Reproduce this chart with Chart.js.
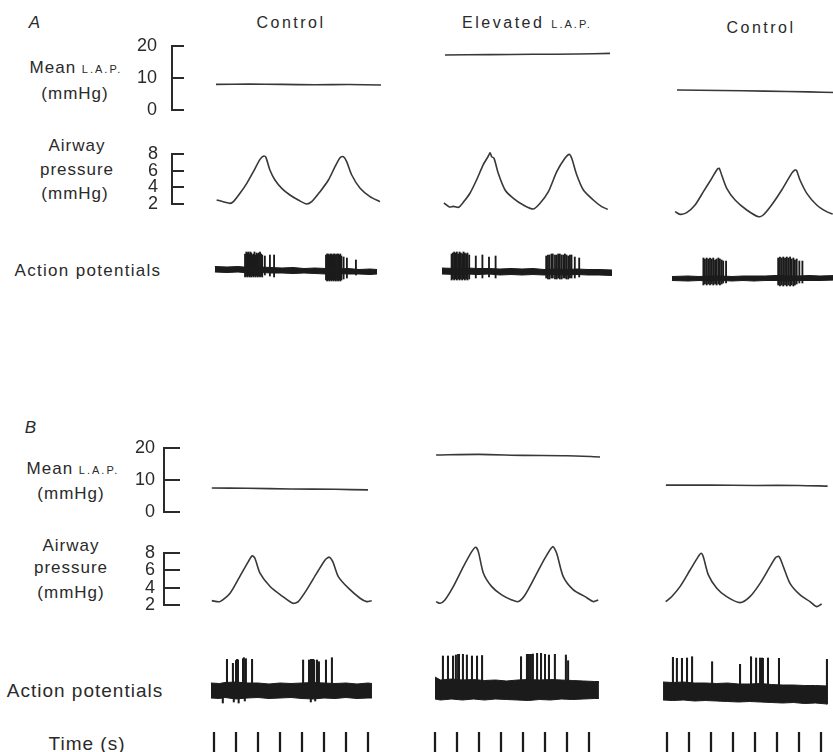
<!DOCTYPE html>
<html>
<head>
<meta charset="utf-8">
<script src="https://cdn.jsdelivr.net/npm/chart.js@4.4.1/dist/chart.umd.min.js"></script>
<style>
  body { margin: 0; width: 833px; height: 752px; overflow: hidden; position: relative; background: #fff;
         font-family: "Liberation Sans", Arial, sans-serif; color: #2a2a2a; }
  .t { position: absolute; white-space: nowrap; line-height: 1; transform: translate(-50%, -50%); font-size: 17px; letter-spacing: 1px; }
  .sc { font-size: 11px; letter-spacing: 2px; }
  .ttl { font-size: 16px; letter-spacing: 2.5px; }
  canvas { position: absolute; }
</style>
</head>
<body>
<div class="t" style="left:35px;top:22px;font-style:italic">A</div>
<div class="t ttl" style="left:291px;top:23px">Control</div>
<div class="t ttl" style="left:527px;top:23px">Elevated <span class="sc">L.A.P.</span></div>
<div class="t ttl" style="left:761px;top:28px">Control</div>
<div class="t" style="left:76px;top:67px">Mean <span class="sc">L.A.P.</span></div>
<div class="t" style="left:75px;top:93px">(mmHg)</div>
<div class="t" style="left:77px;top:145px">Airway</div>
<div class="t" style="left:77px;top:169px">pressure</div>
<div class="t" style="left:75px;top:193px">(mmHg)</div>
<div class="t" style="left:88px;top:270px;letter-spacing:1.3px">Action potentials</div>

<div class="t" style="left:31px;top:427px;font-style:italic">B</div>
<div class="t" style="left:73px;top:468px">Mean <span class="sc">L.A.P.</span></div>
<div class="t" style="left:71px;top:493px">(mmHg)</div>
<div class="t" style="left:71px;top:545px">Airway</div>
<div class="t" style="left:71px;top:567px">pressure</div>
<div class="t" style="left:71px;top:592px">(mmHg)</div>
<div class="t" style="left:85px;top:690px;font-size:19px">Action potentials</div>
<div class="t" style="left:87px;top:743px;font-size:19px">Time (s)</div>

<script>
// ── data: [time (s), value] ──

// mean L.A.P. (mmHg)
const aLapCtrl1 = [[0, 8.0], [1.5, 8.1], [3, 8.0], [4.5, 7.9], [6, 7.95], [7.5, 7.8]];
const aLapElev  = [[0, 17.2], [2, 17.3], [4, 17.4], [6, 17.5], [7.5, 17.7]];
const aLapCtrl2 = [[0, 6.25], [2, 6.1], [4, 5.9], [6, 5.65], [7.2, 5.45]];
const bLapCtrl1 = [[-0.1, 7.5], [1.5, 7.4], [3.5, 7.2], [5.5, 7.1], [7.0, 6.9]];
const bLapElev  = [[0.05, 17.8], [2, 18.0], [4, 17.7], [6, 17.6], [7.5, 17.2]];
const bLapCtrl2 = [[-0.05, 8.4], [2, 8.4], [4, 8.3], [6, 8.3], [7.3, 8.1]];

// airway pressure (mmHg)
const aAirCtrl1 = [[0.03, 2.48], [0.33, 2.28], [0.64, 2.08], [0.79, 2.28], [1.09, 3.28], [1.40, 4.48], [1.70, 5.88],
  [2.0, 7.36], [2.18, 7.76], [2.27, 7.60], [2.45, 6.08], [2.68, 4.88], [2.99, 3.88], [3.36, 3.08], [3.74, 2.48],
  [4.12, 2.0], [4.35, 2.28], [4.73, 3.48], [5.11, 4.88], [5.41, 6.48], [5.64, 7.56], [5.79, 7.68], [5.94, 7.08],
  [6.17, 5.48], [6.55, 3.88], [7.0, 2.88], [7.45, 2.28]];
const aAirElev = [[-0.05, 2.12], [0.2, 1.64], [0.38, 1.72], [0.61, 1.60], [0.83, 2.2], [1.14, 3.32], [1.44, 4.92],
  [1.74, 6.72], [1.97, 7.76], [2.05, 8.16], [2.12, 7.68], [2.23, 7.48], [2.42, 5.68], [2.73, 3.68], [3.11, 2.68],
  [3.56, 1.88], [4.02, 1.40], [4.32, 2.08], [4.7, 3.48], [5.08, 5.88], [5.45, 7.48], [5.65, 7.96], [5.76, 7.48],
  [5.99, 5.48], [6.29, 3.68], [6.74, 2.48], [7.12, 1.68], [7.4, 1.36]];
const aAirCtrl2 = [[-0.09, 1.08], [0.14, 0.76], [0.44, 0.96], [0.82, 1.88], [1.2, 3.48], [1.58, 5.08], [1.83, 6.16],
  [1.92, 6.28], [2.03, 5.48], [2.26, 3.88], [2.64, 2.48], [3.17, 1.28], [3.7, 0.48], [3.92, 0.68], [4.3, 1.88],
  [4.76, 3.68], [5.21, 5.68], [5.36, 6.08], [5.44, 6.0], [5.59, 4.88], [5.9, 3.28], [6.35, 1.88], [6.8, 1.08], [7.08, 0.8]];
const bAirCtrl1 = [[-0.1, 2.5], [0.27, 2.39], [0.73, 3.36], [1.17, 5.28], [1.56, 7.01], [1.74, 7.68], [1.86, 7.4],
  [2.09, 5.67], [2.55, 4.13], [3.08, 3.06], [3.58, 2.2], [3.83, 2.39], [4.21, 3.74], [4.67, 5.67], [5.05, 7.2],
  [5.24, 7.52], [5.4, 7.01], [5.65, 5.28], [6.11, 3.94], [6.64, 2.78], [6.94, 2.39], [7.17, 2.5]];
const bAirElev = [[0.05, 2.39], [0.23, 2.2], [0.45, 2.58], [0.83, 4.12], [1.29, 6.43], [1.67, 8.16], [1.85, 8.66],
  [1.97, 8.16], [2.2, 5.67], [2.58, 4.12], [3.03, 3.16], [3.49, 2.58], [3.79, 2.39], [4.09, 3.16], [4.55, 5.28],
  [5.0, 7.4], [5.35, 8.73], [5.53, 7.96], [5.83, 5.27], [6.29, 3.74], [6.82, 2.96], [7.2, 2.39], [7.42, 2.58]];
const bAirCtrl2 = [[-0.06, 2.39], [0.21, 2.96], [0.59, 4.12], [1.05, 6.04], [1.42, 7.58], [1.55, 7.97], [1.65, 7.58],
  [1.88, 5.47], [2.26, 3.93], [2.71, 2.96], [3.32, 2.27], [3.77, 2.96], [4.23, 4.5], [4.68, 6.42], [4.95, 7.51],
  [5.1, 7.58], [5.29, 6.42], [5.59, 4.5], [6.05, 3.16], [6.5, 2.39], [6.8, 1.81], [7.03, 2.12]];

// action potentials: noise band [t, low, high] and spikes [t, low, high] (relative units)
const aBandCtrl1 = [[-0.05, -0.2, 0.35], [0.5, -0.25, 0.3], [1, -0.2, 0.35], [1.5, -0.3, 0.25], [2, -0.25, 0.3], [2.5, -0.3, 0.25],
  [3, -0.3, 0.2], [3.5, -0.35, 0.25], [4, -0.3, 0.15], [4.5, -0.35, 0.2], [5, -0.4, 0.15], [5.5, -0.35, 0.1], [6, -0.4, 0.15],
  [6.5, -0.4, 0.05], [7, -0.45, 0.1], [7.32, -0.4, 0.05]];
const aBandElev = [[-0.14, -0.4, 0.2], [0.5, -0.45, 0.15], [1, -0.4, 0.2], [1.5, -0.45, 0.15], [2, -0.4, 0.15], [2.5, -0.5, 0.1],
  [3, -0.45, 0.15], [3.5, -0.5, 0.1], [4, -0.45, 0.15], [4.5, -0.5, 0.05], [5, -0.45, 0.1], [5.5, -0.5, 0.05], [6, -0.45, 0.1],
  [6.5, -0.5, 0.05], [7, -0.5, 0.05], [7.59, -0.55, 0]];
const aBandCtrl2 = [[-0.23, -1.05, -0.65], [0.5, -1.1, -0.6], [1, -1.05, -0.65], [1.5, -1.1, -0.6], [2, -1.05, -0.6],
  [2.5, -1.1, -0.65], [3, -1.05, -0.6], [3.5, -1.1, -0.6], [4, -1.05, -0.6], [4.5, -1.05, -0.55], [5, -1.1, -0.6],
  [5.5, -1.05, -0.6], [6, -1.05, -0.55], [6.5, -1.05, -0.6], [7.2, -1.0, -0.55]];
const aSpkCtrl1 = [[1.32, -0.7, 1.6], [1.38, -0.6, 1.8], [1.42, -0.7, 1.7], [1.47, -0.6, 1.8], [1.52, -0.7, 1.6],
  [1.56, -0.6, 1.8], [1.6, -0.7, 1.7], [1.65, -0.6, 1.5], [1.7, -0.7, 1.6], [1.75, -0.6, 1.8], [1.8, -0.7, 1.5],
  [1.85, -0.6, 1.7], [1.9, -0.7, 1.6], [1.95, -0.6, 1.7], [2.0, -0.7, 1.8], [2.05, -0.6, 1.6], [2.1, -0.7, 1.5],
  [2.22, -0.5, 1.4], [2.45, -0.6, 1.5], [2.64, -0.7, 1.5],
  [5.0, -1.0, 1.5], [5.05, -1.1, 1.6], [5.1, -1.0, 1.6], [5.15, -1.1, 1.5], [5.2, -1.0, 1.6], [5.25, -1.1, 1.6],
  [5.3, -1.0, 1.5], [5.35, -1.1, 1.6], [5.4, -1.0, 1.6], [5.45, -1.1, 1.5], [5.5, -1.0, 1.6], [5.55, -1.1, 1.6],
  [5.6, -1.0, 1.5], [5.65, -1.1, 1.6], [5.7, -1.0, 1.4], [5.8, -0.9, 1.3], [5.95, -0.8, 1.2], [6.36, -0.5, 1.0]];
const aSpkElev = [[0.3, -1.0, 1.6], [0.36, -0.9, 1.7], [0.42, -1.0, 1.8], [0.48, -0.9, 1.7], [0.54, -1.0, 1.8],
  [0.6, -0.9, 1.6], [0.66, -1.0, 1.8], [0.72, -0.9, 1.7], [0.78, -1.0, 1.6], [0.84, -0.9, 1.8], [0.9, -1.0, 1.7],
  [0.96, -0.9, 1.6], [1.02, -1.0, 1.7], [1.1, -0.9, 1.5], [1.4, -0.8, 1.4], [1.7, -0.8, 1.5], [2.0, -0.7, 1.3],
  [2.3, -0.8, 1.4],
  [4.6, -0.8, 1.4], [4.68, -0.9, 1.5], [4.75, -0.9, 1.5], [4.84, -0.8, 1.6], [4.9, -0.8, 1.6], [5.0, -0.9, 1.5],
  [5.08, -0.9, 1.5], [5.15, -0.8, 1.6], [5.22, -0.9, 1.6], [5.3, -0.9, 1.5], [5.38, -0.8, 1.5], [5.45, -0.8, 1.6],
  [5.52, -0.9, 1.5], [5.6, -0.9, 1.4], [5.68, -0.8, 1.5], [5.75, -0.8, 1.5], [5.9, -0.8, 1.3], [6.1, -0.7, 1.2]];
const aSpkCtrl2 = [[1.2, -1.5, 1.2], [1.27, -1.4, 1.1], [1.35, -1.5, 1.2], [1.42, -1.4, 1.1], [1.5, -1.5, 1.2],
  [1.58, -1.4, 1.1], [1.65, -1.5, 1.2], [1.73, -1.4, 1.0], [1.8, -1.5, 1.1], [1.88, -1.4, 1.2], [1.95, -1.5, 1.1],
  [2.03, -1.4, 1.0], [2.1, -1.3, 0.9], [2.23, -1.3, 0.9],
  [4.6, -1.5, 1.2], [4.68, -1.6, 1.3], [4.76, -1.5, 1.2], [4.83, -1.6, 1.3], [4.91, -1.5, 1.2], [4.99, -1.6, 1.3],
  [5.06, -1.5, 1.2], [5.14, -1.6, 1.3], [5.21, -1.5, 1.1], [5.29, -1.6, 1.2], [5.36, -1.5, 1.0], [5.44, -1.4, 1.1],
  [5.56, -1.3, 0.9], [5.7, -1.3, 0.9]];

const bBandCtrl1 = [[-0.14, -0.8, 0.7], [0.25, -0.85, 0.65], [0.5, -0.75, 0.75], [1.0, -0.9, 0.8], [1.5, -0.8, 0.7],
  [2.0, -0.75, 0.7], [2.5, -0.85, 0.6], [3.0, -0.8, 0.7], [3.5, -0.75, 0.65], [4.0, -0.85, 0.7], [4.5, -0.9, 0.75],
  [5.0, -0.8, 0.7], [5.5, -0.85, 0.65], [6.0, -0.75, 0.7], [6.5, -0.85, 0.6], [7.0, -0.8, 0.7], [7.18, -0.8, 0.65]];
const bBandElev = [[0, -0.9, 1.3], [0.25, -1.0, 1.0], [0.75, -0.9, 1.1], [1.25, -1.0, 1.0], [1.75, -0.9, 1.05],
  [2.25, -1.0, 0.95], [2.75, -0.9, 1.0], [3.25, -0.95, 0.9], [3.75, -1.0, 1.0], [4.25, -1.05, 1.05], [4.75, -0.95, 1.0],
  [5.25, -1.0, 1.05], [5.75, -0.9, 1.0], [6.25, -0.95, 0.95], [6.75, -0.9, 0.9], [7.25, -0.85, 0.85], [7.45, -0.85, 0.85]];
const bBandCtrl2 = [[-0.18, -1.0, 0.8], [0.25, -1.05, 0.75], [0.75, -1.0, 0.8], [1.25, -1.1, 0.7], [1.75, -1.05, 0.7],
  [2.25, -1.1, 0.65], [2.75, -1.15, 0.7], [3.25, -1.2, 0.6], [3.75, -1.15, 0.6], [4.25, -1.2, 0.65], [4.75, -1.25, 0.55],
  [5.25, -1.3, 0.5], [5.75, -1.25, 0.5], [6.25, -1.35, 0.45], [6.75, -1.3, 0.45], [7.27, -1.4, 0.4]];
const bSpkCtrl1 = [[0.59, 0, 3.07], [0.86, 0, 2.67], [1.0, 0, 2.95], [1.05, 0, 3.07], [1.09, 0, 3.0], [1.32, 0, 3.13],
  [1.36, 0, 3.23], [1.45, 0, 3.13], [1.73, 0, 3.07], [4.05, 0, 3.0], [4.32, 0, 3.0], [4.41, 0, 3.07], [4.5, 0, 3.07],
  [4.55, 0, 3.0], [4.68, 0, 3.0], [4.77, 0, 2.83], [5.09, 0, 3.0], [5.36, 0, 3.23],
  [0.4, -1.3, 0], [0.9, -1.2, 0], [1.12, -1.3, 0], [1.4, -1.1, 0], [4.4, -1.2, 0], [4.6, -1.1, 0]];
const bSpkElev = [[0.36, 0, 3.4], [0.59, 0, 3.4], [0.82, 0, 3.4], [0.95, 0, 3.5], [1.05, 0, 3.57], [1.09, 0, 3.57],
  [1.27, 0, 3.57], [1.45, 0, 3.5], [1.68, 0, 3.4], [1.91, 0, 3.4], [2.14, 0, 3.45], [3.91, 0, 3.33], [4.18, 0, 3.57],
  [4.27, 0, 3.57], [4.36, 0, 3.57], [4.45, 0, 3.6], [4.64, 0, 3.67], [4.82, 0, 3.67], [5.0, 0, 3.57], [5.18, 0, 3.5],
  [5.45, 0, 3.57], [5.95, 0, 3.5], [6.05, 0, 2.93]];
const bSpkCtrl2 = [[0.27, 0, 3.27], [0.45, 0, 3.17], [0.68, 0, 3.17], [0.91, 0, 3.2], [1.14, 0, 3.33], [2.05, 0, 2.83],
  [3.32, 0, 2.57], [3.82, 0, 3.33], [4.05, 0, 3.2], [4.23, 0, 3.2], [4.32, 0, 3.2], [4.36, 0, 3.17], [4.59, 0, 3.2],
  [5.09, 0, 3.17], [7.27, -1.4, 3.07]];

// time marks (s)
const timeTicks = [0, 1, 2, 3, 4, 5, 6, 7];

// ── layout ──
const PX_S = 22;                 // pixels per second
const M = 30;                    // canvas margin around each plot area
const colA = [216, 445, 677];    // x of t = 0, panel A columns
const colB = [214, 435, 667];    // x of t = 0, panel B columns
const INK = '#2a2a2a', TRACE = '#383838', AP = '#1b1b1b';
const FONT = '"Liberation Sans", Arial, sans-serif';

function canvasAt(left, top, w, h) {
  const c = document.createElement('canvas');
  c.width = w; c.height = h;
  c.style.left = left + 'px'; c.style.top = top + 'px';
  document.body.appendChild(c);
  return c;
}

const base = () => ({
  responsive: false, animation: false, events: [],
  layout: { padding: { top: M, bottom: M, left: 0, right: 0 } },
  plugins: { legend: { display: false }, tooltip: { enabled: false } }
});

// plot area: top y and height in page pixels
function cellChart(x0, areaTop, areaH, yMin, yMax, datasets) {
  const c = canvasAt(x0 - 0.5 * PX_S, areaTop - M, 8.5 * PX_S, areaH + 2 * M);
  return new Chart(c, {
    type: 'line',
    data: { datasets },
    options: Object.assign(base(), {
      scales: {
        x: { type: 'linear', display: false, min: -0.5, max: 8, offset: false },
        y: { type: 'linear', display: false, min: yMin, max: yMax }
      }
    })
  });
}

function scaleBar(axisX, tickLen, areaTop, areaH, yMin, yMax, step, labelPad) {
  const axisW = 60;
  const c = canvasAt(axisX - axisW, areaTop - M, axisW + tickLen, areaH + 2 * M);
  return new Chart(c, {
    type: 'line',
    data: { datasets: [] },
    options: Object.assign(base(), {
      scales: {
        x: { type: 'linear', display: false, min: 0, max: 1 },
        y: {
          type: 'linear', min: yMin, max: yMax,
          ticks: { stepSize: step, autoSkip: false, padding: labelPad, color: INK, font: { family: FONT, size: 18 } },
          grid: { color: INK, lineWidth: 2, drawTicks: false },
          border: { color: INK, width: 2 },
          afterFit: s => { s.width = axisW; }
        }
      }
    })
  });
}

const trace = pairs => ({
  data: pairs.map(([x, y]) => ({ x, y })),
  borderColor: TRACE, borderWidth: 1.6, pointRadius: 0, tension: 0.25, fill: false, clip: false
});
const band = rows => [
  { data: rows.map(r => ({ x: r[0], y: r[1] })), borderColor: AP, borderWidth: 1, pointRadius: 0, tension: 0, fill: false, clip: false },
  { data: rows.map(r => ({ x: r[0], y: r[2] })), borderColor: AP, borderWidth: 1, pointRadius: 0, tension: 0,
    fill: '-1', backgroundColor: AP, clip: false }
];
const spikes = (rows, w) => ({
  type: 'bar', data: rows.map(r => ({ x: r[0], y: [r[1], r[2]] })),
  backgroundColor: AP, borderWidth: 0, barThickness: w, grouped: false
});

// ── panel A ──
scaleBar(172, 12, 46, 64, 0, 20, 10, 15);
scaleBar(172, 12, 154, 50, 2, 8, 2, 14);
[aLapCtrl1, aLapElev, aLapCtrl2].forEach((d, i) => cellChart(colA[i], 46, 64, 0, 20, [trace(d)]));
[aAirCtrl1, aAirElev, aAirCtrl2].forEach((d, i) => cellChart(colA[i], 154, 50, 2, 8, [trace(d)]));
[[aBandCtrl1, aSpkCtrl1], [aBandElev, aSpkElev], [aBandCtrl2, aSpkCtrl2]].forEach(([b, s], i) =>
  cellChart(colA[i], 240, 50, -2, 3, [...band(b), spikes(s, 1.2)]));

// ── panel B ──
scaleBar(164, 16, 448, 64, 0, 20, 10, 9);
scaleBar(164, 16, 553, 52, 2, 8, 2, 9);
[bLapCtrl1, bLapElev, bLapCtrl2].forEach((d, i) => cellChart(colB[i], 448, 64, 0, 20, [trace(d)]));
[bAirCtrl1, bAirElev, bAirCtrl2].forEach((d, i) => cellChart(colB[i], 553, 52, 2, 8, [trace(d)]));
[[bBandCtrl1, bSpkCtrl1], [bBandElev, bSpkElev], [bBandCtrl2, bSpkCtrl2]].forEach(([b, s], i) =>
  cellChart(colB[i], 645, 65, -2, 4.5, [...band(b), spikes(s, 1.4)]));
colB.forEach(x0 => cellChart(x0, 732, 20, 0, 1, [spikes(timeTicks.map(t => [t, 0, 1]), 1.6)]));
</script>
</body>
</html>
